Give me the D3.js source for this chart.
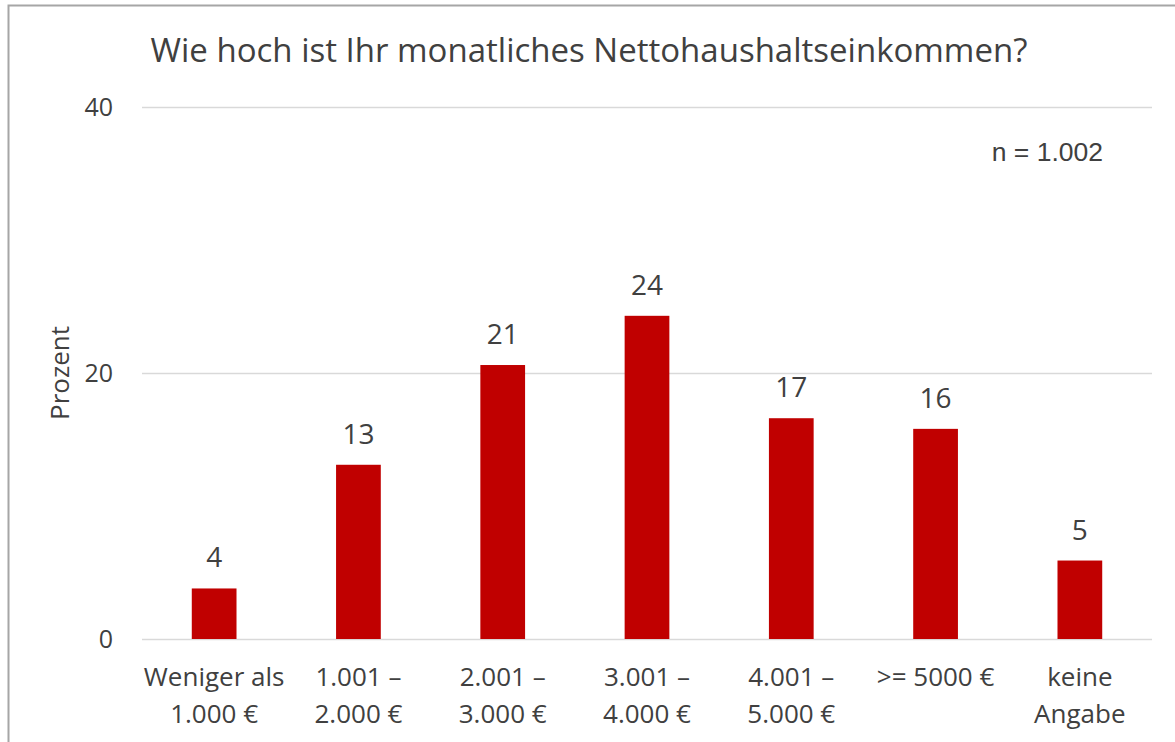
<!DOCTYPE html>
<html>
<head>
<meta charset="utf-8">
<script src="https://cdnjs.cloudflare.com/ajax/libs/d3/7.8.5/d3.min.js"></script>
<style>
  body { margin: 0; background: #fff; }
  text { font-family: "Open Sans", sans-serif; fill: #404040; }
</style>
</head>
<body>
<svg width="1175" height="742"></svg>
<script>
// chart data
var categories = [["Weniger als", "1.000 €"], ["1.001 –", "2.000 €"], ["2.001 –", "3.000 €"],
                  ["3.001 –", "4.000 €"], ["4.001 –", "5.000 €"], [">= 5000 €"], ["keine", "Angabe"]];
var values = [3.8, 13.1, 20.6, 24.3, 16.6, 15.8, 5.9];
var valueLabels = ["4", "13", "21", "24", "17", "16", "5"];
var yTicks = [0, 20, 40];

var svg = d3.select("svg"),
    width = +svg.attr("width"),
    height = +svg.attr("height");

var margin = {left: 142, right: 1152, top: 107, bottom: 639};

// outer chart frame
svg.append("path")
    .attr("d", "M8.5," + height + "V5.5H" + width)
    .attr("fill", "none")
    .attr("stroke", "#a6a6a6")
    .attr("stroke-width", 2);

var x = d3.scaleBand()
    .domain(d3.range(categories.length))
    .range([margin.left, margin.right])
    .paddingInner(0.69)
    .paddingOuter(0.345);

var y = d3.scaleLinear()
    .domain([0, 40])
    .range([margin.bottom, margin.top]);

// gridlines
svg.append("g")
    .selectAll("line")
    .data(yTicks)
    .enter().append("line")
    .attr("x1", margin.left)
    .attr("x2", margin.right)
    .attr("y1", function (d) { return y(d) + 0.5; })
    .attr("y2", function (d) { return y(d) + 0.5; })
    .attr("stroke", "#d9d9d9")
    .attr("stroke-width", 1.5);

// y tick labels
svg.append("g")
    .selectAll("text")
    .data(yTicks)
    .enter().append("text")
    .attr("x", 113)
    .attr("y", function (d) { return y(d); })
    .attr("dy", "0.35em")
    .attr("text-anchor", "end")
    .style("font-size", "25px")
    .text(function (d) { return d; });

// bars
svg.append("g")
    .selectAll("rect")
    .data(values)
    .enter().append("rect")
    .attr("x", function (d, i) { return x(i); })
    .attr("width", x.bandwidth())
    .attr("y", function (d) { return y(d); })
    .attr("height", function (d) { return y(0) - y(d); })
    .attr("fill", "#c00000");

// value labels
svg.append("g")
    .selectAll("text")
    .data(values)
    .enter().append("text")
    .attr("x", function (d, i) { return x(i) + x.bandwidth() / 2; })
    .attr("y", function (d) { return y(d) - 21; })
    .attr("text-anchor", "middle")
    .style("font-size", "28px")
    .text(function (d, i) { return valueLabels[i]; });

// category labels
var cat = svg.append("g")
    .selectAll("text")
    .data(categories)
    .enter().append("text")
    .attr("x", function (d, i) { return x(i) + x.bandwidth() / 2; })
    .attr("y", 686)
    .attr("text-anchor", "middle")
    .style("font-size", "26px");

cat.selectAll("tspan")
    .data(function (d) { return d; })
    .enter().append("tspan")
    .attr("x", function () { return d3.select(this.parentNode).attr("x"); })
    .attr("dy", function (d, i) { return i ? 37 : 0; })
    .text(function (d) { return d; });

// title
svg.append("text")
    .attr("x", 589)
    .attr("y", 62)
    .attr("text-anchor", "middle")
    .style("font-size", "33px")
    .text("Wie hoch ist Ihr monatliches Nettohaushaltseinkommen?");

// axis title
svg.append("text")
    .attr("transform", "translate(69,373) rotate(-90)")
    .attr("text-anchor", "middle")
    .style("font-size", "26px")
    .text("Prozent");

// sample size
svg.append("text")
    .attr("x", 1103)
    .attr("y", 161)
    .attr("text-anchor", "end")
    .style("font-family", "'Liberation Sans', Arial, sans-serif")
    .style("font-size", "26.5px")
    .text("n = 1.002");
</script>
</body>
</html>
